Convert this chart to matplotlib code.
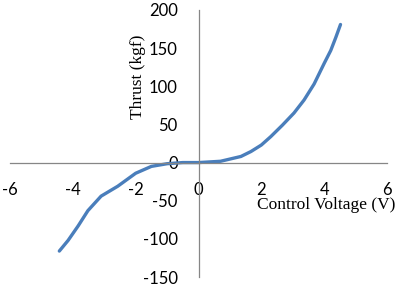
import matplotlib
matplotlib.use('Agg')
import matplotlib.pyplot as plt

plt.rcParams['axes.unicode_minus'] = False

# control voltage (V) vs thrust (kgf)
voltage = [-4.43, -4.15, -3.83, -3.52, -3.1, -2.57, -2.0, -1.5, -1.0, -0.5, 0.0,
           0.7, 1.35, 1.67, 2.0, 2.3, 2.67, 3.04, 3.36, 3.68, 4.0, 4.21, 4.37, 4.52]
thrust = [-116, -102, -83, -63, -44, -31, -14, -5, -1.5, 0, 0,
          1.7, 8, 14.5, 23, 34, 49, 65, 82, 103, 130, 147, 164, 181]

x_ticks = [-6, -4, -2, 0, 2, 4, 6]
y_ticks = [-150, -100, -50, 0, 50, 100, 150, 200]

fig = plt.figure(figsize=(4, 2.9), dpi=100)
ax = fig.add_axes([10 / 400, 13 / 290, 377 / 400, 267 / 290])

ax.plot(voltage, thrust, color='#4a7ebb', linewidth=2.4,
        solid_capstyle='round', solid_joinstyle='round')

ax.set_xlim(-6, 6)
ax.set_ylim(-150, 200)
ax.set_xticks(x_ticks)
ax.set_yticks(y_ticks)

for side in ['top', 'right']:
    ax.spines[side].set_visible(False)
ax.spines['left'].set_position(('data', 0))
ax.spines['bottom'].set_position(('data', 0))
for side in ['left', 'bottom']:
    ax.spines[side].set_color('#868686')
    ax.spines[side].set_linewidth(0.9)

ax.tick_params(axis='both', length=0, labelsize=12)
ax.tick_params(axis='x', pad=14)
ax.tick_params(axis='y', pad=15)
for lab in ax.get_xticklabels() + ax.get_yticklabels():
    lab.set_family('Lato')

ax.text(4.05, -55, 'Control Voltage (V)', family='Liberation Serif', fontsize=12.5,
        ha='center', va='center')
ax.text(-1.92, 113, 'Thrust (kgf)', family='Liberation Serif', fontsize=12.5,
        ha='center', va='center', rotation=90)

fig.savefig('out.png', dpi=100)
